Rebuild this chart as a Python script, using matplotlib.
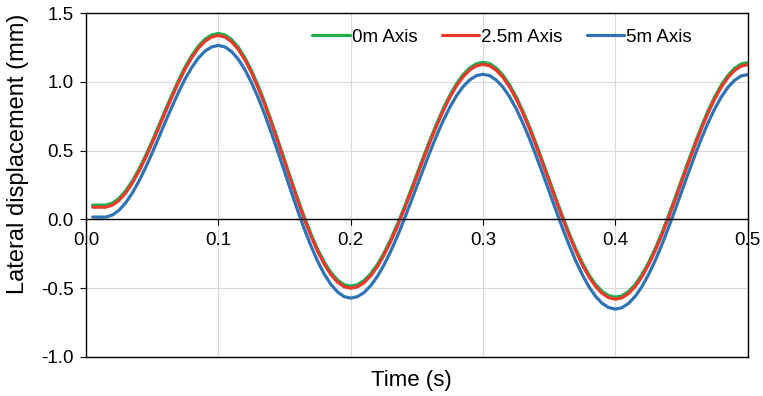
import matplotlib

matplotlib.use("Agg")
import matplotlib.pyplot as plt
from matplotlib.lines import Line2D

plt.rcParams["font.family"] = ["Liberation Sans", "DejaVu Sans"]

# time samples (s), every 5 ms
time_s = [round(0.005 * i, 3) for i in range(1, 101)]

# lateral displacement (mm)
disp_0m = [0.104, 0.104, 0.104, 0.119, 0.154, 0.208, 0.279, 0.365, 0.463, 0.570,
           0.682, 0.797, 0.907, 1.013, 1.110, 1.193, 1.261, 1.311, 1.341, 1.352,
           1.341, 1.307, 1.252, 1.177, 1.083, 0.973, 0.851, 0.717, 0.577, 0.434,
           0.290, 0.150, 0.016, -0.106, -0.216, -0.310, -0.385, -0.440, -0.474, -0.485,
           -0.475, -0.445, -0.396, -0.330, -0.247, -0.150, -0.041, 0.077, 0.201, 0.329,
           0.456, 0.580, 0.698, 0.807, 0.904, 0.987, 1.053, 1.102, 1.132, 1.142,
           1.132, 1.100, 1.049, 0.979, 0.892, 0.790, 0.676, 0.552, 0.422, 0.289,
           0.155, 0.025, -0.099, -0.213, -0.315, -0.402, -0.472, -0.523, -0.554, -0.565,
           -0.555, -0.523, -0.472, -0.402, -0.315, -0.214, -0.100, 0.024, 0.154, 0.288,
           0.421, 0.551, 0.675, 0.789, 0.890, 0.977, 1.047, 1.098, 1.130, 1.140]
disp_25m = [0.089, 0.089, 0.089, 0.104, 0.139, 0.193, 0.264, 0.350, 0.448, 0.555,
            0.667, 0.782, 0.892, 0.998, 1.095, 1.178, 1.246, 1.296, 1.326, 1.337,
            1.326, 1.292, 1.237, 1.162, 1.068, 0.958, 0.836, 0.702, 0.562, 0.419,
            0.275, 0.135, 0.001, -0.121, -0.231, -0.325, -0.400, -0.455, -0.489, -0.500,
            -0.490, -0.460, -0.411, -0.345, -0.262, -0.165, -0.056, 0.062, 0.186, 0.314,
            0.441, 0.565, 0.683, 0.792, 0.889, 0.972, 1.038, 1.087, 1.117, 1.127,
            1.117, 1.085, 1.034, 0.964, 0.877, 0.775, 0.661, 0.537, 0.407, 0.274,
            0.140, 0.010, -0.114, -0.228, -0.330, -0.417, -0.487, -0.538, -0.569, -0.580,
            -0.570, -0.538, -0.487, -0.417, -0.330, -0.229, -0.115, 0.009, 0.139, 0.273,
            0.406, 0.536, 0.660, 0.774, 0.875, 0.962, 1.032, 1.083, 1.115, 1.125]
disp_5m = [0.017, 0.017, 0.017, 0.032, 0.067, 0.121, 0.192, 0.278, 0.376, 0.483,
           0.595, 0.710, 0.820, 0.926, 1.023, 1.106, 1.174, 1.224, 1.254, 1.265,
           1.254, 1.220, 1.165, 1.090, 0.996, 0.886, 0.764, 0.630, 0.490, 0.347,
           0.203, 0.063, -0.071, -0.193, -0.303, -0.397, -0.472, -0.527, -0.561, -0.572,
           -0.562, -0.532, -0.483, -0.417, -0.334, -0.237, -0.128, -0.010, 0.114, 0.242,
           0.369, 0.493, 0.611, 0.720, 0.817, 0.900, 0.966, 1.015, 1.045, 1.055,
           1.045, 1.013, 0.962, 0.892, 0.805, 0.703, 0.589, 0.465, 0.335, 0.202,
           0.068, -0.062, -0.186, -0.300, -0.402, -0.489, -0.559, -0.610, -0.641, -0.652,
           -0.642, -0.610, -0.559, -0.489, -0.402, -0.301, -0.187, -0.063, 0.067, 0.201,
           0.334, 0.464, 0.588, 0.702, 0.803, 0.890, 0.960, 1.011, 1.043, 1.053]

series = [
    ("0m Axis", disp_0m, "#1DAF4E"),
    ("2.5m Axis", disp_25m, "#E8392B"),
    ("5m Axis", disp_5m, "#2E74B5"),
]

x_ticks = [0.0, 0.1, 0.2, 0.3, 0.4, 0.5]
y_ticks = [-1.0, -0.5, 0.0, 0.5, 1.0, 1.5]

fig = plt.figure(figsize=(7.63, 3.96), dpi=100)
ax = fig.add_axes([0.1127, 0.0985, 0.8673, 0.8685])

for label, vals, color in series:
    ax.plot(time_s, vals, color=color, lw=2.3, label=label, solid_capstyle="round")

ax.set_xlim(0, 0.5)
ax.set_ylim(-1.0, 1.5)
ax.set_xticks(x_ticks)
ax.set_yticks(y_ticks)
ax.set_xticklabels([f"{v:.1f}" for v in x_ticks])
ax.set_yticklabels([f"{v:.1f}" for v in y_ticks])
ax.grid(True, color="#D9D9D9", lw=0.8)
ax.set_axisbelow(True)

# x axis sits on y = 0, the plot area keeps its full frame
ax.spines["bottom"].set_position(("data", 0))
for s in ax.spines.values():
    s.set_color("black")
    s.set_linewidth(1.0)
ax.add_artist(Line2D([0, 1], [0, 0], transform=ax.transAxes, color="black",
                     lw=1.0, clip_on=False))

ax.tick_params(axis="both", direction="out", length=4, width=0.8,
               labelsize=13.5, colors="black")
ax.tick_params(axis="x", pad=5)
ax.tick_params(axis="y", pad=5)

fig.text(0.0236, 0.611, "Lateral displacement (mm)", rotation=90,
         ha="center", va="center", fontsize=17)
fig.text(0.539, 0.038, "Time (s)", ha="center", va="center", fontsize=16)

ax.legend(loc="center", ncol=3, frameon=False, fontsize=13.5,
          handlelength=2.0, handletextpad=0.1, columnspacing=1.3,
          bbox_to_anchor=(0.629, 0.930))

fig.savefig("out.png", dpi=100)
